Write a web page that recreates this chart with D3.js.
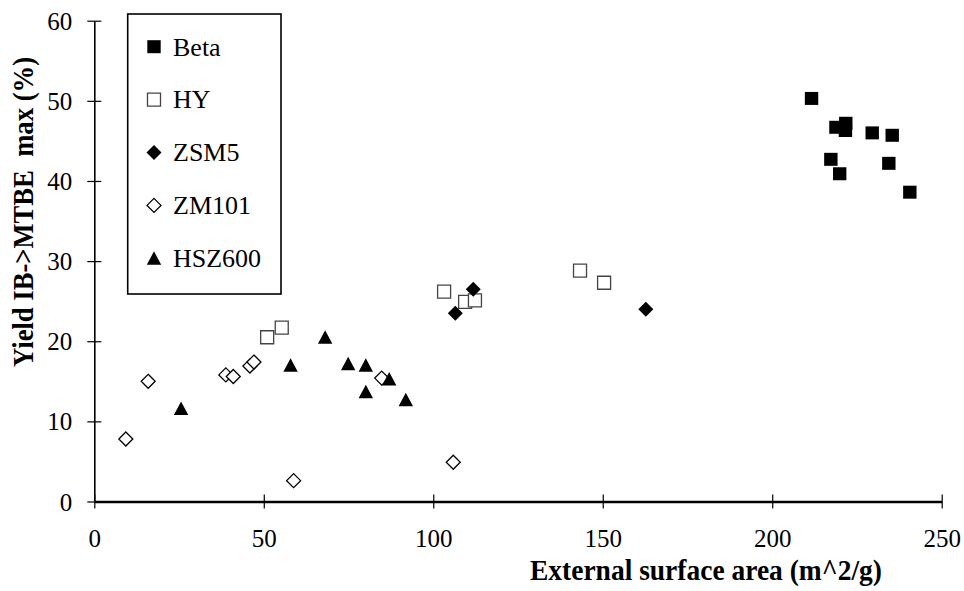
<!DOCTYPE html>
<html>
<head>
<meta charset="utf-8">
<script src="https://cdn.jsdelivr.net/npm/d3@7"></script>
<style>
  html, body { margin: 0; padding: 0; background: #fff; }
  svg { display: block; }
  text { font-family: "Liberation Serif", "Times New Roman", serif; fill: #000; }
</style>
</head>
<body>
<svg id="chart" width="964" height="591"></svg>
<script>
// Maximum IB->MTBE yield versus external surface area, per zeolite family
const seriesNames = ["Beta", "HY", "ZSM5", "ZM101", "HSZ600"];

// [external surface area (m^2/g), yield (%)]
const beta = [[211.6, 50.3], [218.8, 46.7], [221.7, 47.2], [221.6, 46.3], [229.5, 46.0],
              [235.4, 45.7], [217.3, 42.7], [219.9, 40.9], [234.4, 42.2], [240.6, 38.6]];
const hy = [[51.0, 20.5], [55.3, 21.7], [103.2, 26.2], [109.4, 24.9], [112.3, 25.1],
            [143.3, 28.8], [150.4, 27.3]];
const zsm5 = [[106.5, 23.5], [111.8, 26.5], [162.7, 24.0]];
const zm101 = [[9.3, 7.8], [15.9, 15.0], [38.8, 15.8], [41.0, 15.6], [45.9, 16.9],
               [47.1, 17.4], [58.8, 2.6], [84.8, 15.4], [105.9, 4.9]];
const hsz600 = [[25.6, 11.6], [57.9, 17.0], [68.1, 20.5], [74.9, 17.2], [80.1, 17.0],
                [80.1, 13.7], [87.0, 15.3], [91.9, 12.7]];

const xTicks = [0, 50, 100, 150, 200, 250];
const yTicks = [0, 10, 20, 30, 40, 50, 60];
const xTitle = "External surface area (m^2/g)";
const yTitle = "Yield IB->MTBE  max (%)";

const serif = "'Liberation Serif', 'Times New Roman', serif";
const svg = d3.select("#chart");

const x = d3.scaleLinear().domain([0, 250]).range([94.3, 941.7]);
const y = d3.scaleLinear().domain([0, 60]).range([501.5, 20.7]);

// Marker shapes
const shapes = {
  "Beta":   { d: "M-6.7,-6.5H6.7V6.5H-6.7Z", fill: "#000", stroke: "none" },
  "HY":     { d: "M-6.5,-6.5H6.5V6.5H-6.5Z", fill: "#fff", stroke: "#444" },
  "ZSM5":   { d: "M0,-7.5L7.5,0L0,7.5L-7.5,0Z", fill: "#000", stroke: "none" },
  "ZM101":  { d: "M0,-7L7,0L0,7L-7,0Z", fill: "#fff", stroke: "#000" },
  "HSZ600": { d: "M0,-7L7.2,6.5H-7.2Z", fill: "#000", stroke: "none" }
};

// Y axis
const yAxis = svg.append("g")
  .attr("transform", `translate(${x(0)},0)`)
  .call(d3.axisLeft(y).tickValues(yTicks).tickSize(7).tickSizeOuter(0).tickPadding(0))
  .attr("font-family", serif)
  .attr("font-size", 25);
yAxis.select(".domain").attr("stroke", "#000").attr("stroke-width", 1.6);
yAxis.selectAll(".tick line").attr("x1", 7).attr("stroke-width", 1.2);
yAxis.selectAll(".tick text")
  .attr("x", -22)
  .attr("dy", "0.34em")
  .style("font-size", "25px")
  .style("font-family", serif);

// X axis
const xAxis = svg.append("g")
  .attr("transform", `translate(0,${y(0)})`)
  .call(d3.axisBottom(x).tickValues(xTicks).tickSize(7).tickSizeOuter(0).tickPadding(0))
  .attr("font-family", serif)
  .attr("font-size", 25);
xAxis.select(".domain").attr("stroke", "#000").attr("stroke-width", 2.4);
xAxis.selectAll(".tick line").attr("y1", -7).attr("stroke-width", 1.2);
xAxis.selectAll(".tick text")
  .attr("y", 45)
  .attr("dy", 0)
  .style("font-size", "25px")
  .style("font-family", serif);

// Axis titles
svg.append("text")
  .attr("x", 706).attr("y", 580)
  .attr("text-anchor", "middle")
  .attr("textLength", 352).attr("lengthAdjust", "spacingAndGlyphs")
  .style("font-size", "29px").style("font-weight", "bold")
  .text(xTitle);

svg.append("text")
  .attr("transform", "translate(33,212) rotate(-90)")
  .attr("text-anchor", "middle")
  .attr("textLength", 310).attr("lengthAdjust", "spacingAndGlyphs")
  .style("font-size", "29px").style("font-weight", "bold")
  .style("white-space", "pre")
  .text(yTitle);

// Data points
const seriesData = [beta, hy, zsm5, zm101, hsz600];
seriesData.forEach((pts, i) => {
  const s = shapes[seriesNames[i]];
  svg.append("g").selectAll("path")
    .data(pts)
    .join("path")
    .attr("d", s.d)
    .attr("transform", d => `translate(${x(d[0])},${y(d[1])})`)
    .attr("fill", s.fill)
    .attr("stroke", s.stroke)
    .attr("stroke-width", 1.3);
});

// Legend
const legend = svg.append("g");
legend.append("rect")
  .attr("x", 127.7).attr("y", 14)
  .attr("width", 153.3).attr("height", 280)
  .attr("fill", "#fff").attr("stroke", "#000").attr("stroke-width", 1.6);

const rows = legend.selectAll("g.row")
  .data(seriesNames)
  .join("g")
  .attr("class", "row")
  .attr("transform", (d, i) => `translate(154,${46.7 + i * 52.9})`);
rows.append("path")
  .attr("d", d => shapes[d].d)
  .attr("fill", d => shapes[d].fill)
  .attr("stroke", d => shapes[d].stroke)
  .attr("stroke-width", 1.3);
rows.append("text")
  .attr("x", 19).attr("y", 0).attr("dy", "0.34em")
  .style("font-size", "26px")
  .style("font-family", serif)
  .text(d => d);
</script>
</body>
</html>
